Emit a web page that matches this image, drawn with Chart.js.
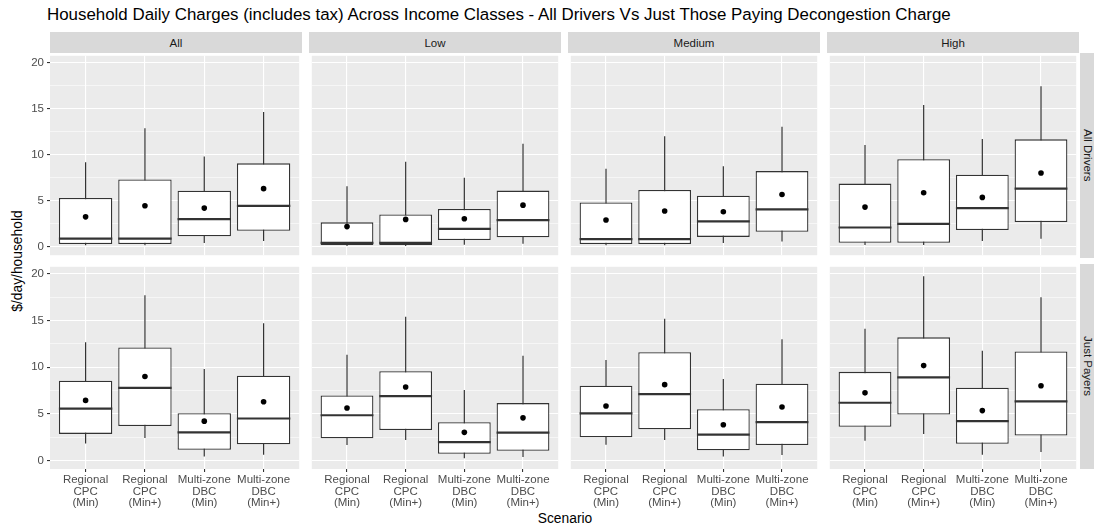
<!DOCTYPE html>
<html>
<head>
<meta charset="utf-8">
<script src="https://cdn.jsdelivr.net/npm/chart.js@4.4.1/dist/chart.umd.min.js"></script>
<style>
  html, body { margin:0; padding:0; background:#fff; }
  body { width:1094px; height:527px; position:relative; overflow:hidden; font-family:"Liberation Sans", Arial, Helvetica, sans-serif; }
  canvas { position:absolute; }
  .strip { position:absolute; background:#d9d9d9; color:#1a1a1a; font-size:11.5px; display:flex; align-items:center; justify-content:center; }
  .strip.right { writing-mode:vertical-rl; }
  #title { position:absolute; left:47px; top:6px; font-size:16.9px; line-height:18px; color:#000; white-space:nowrap; }
  #ytitle { position:absolute; left:17px; top:261px; font-size:13.8px; color:#000; white-space:nowrap; transform:translate(-50%,-50%) rotate(-90deg); }
  #xtitle { position:absolute; left:565px; top:518px; font-size:13.8px; color:#000; white-space:nowrap; transform:translate(-50%,-50%); }
</style>
</head>
<body>
<div id="title">Household Daily Charges (includes tax) Across Income Classes - All Drivers Vs Just Those Paying Decongestion Charge</div>
<div id="ytitle">$/day/household</div>
<div id="xtitle">Scenario</div>
<script>
// ---------- data ----------
const scenarios = [["Regional","CPC","(Min)"],["Regional","CPC","(Min+)"],["Multi-zone","DBC","(Min)"],["Multi-zone","DBC","(Min+)"]];
const incomeClasses = ["All","Low","Medium","High"];
const driverGroups = ["All Drivers","Just Payers"];
const yTickValues = [0, 5, 10, 15, 20];
const yMinorValues = [2.5, 7.5, 12.5, 17.5];

// All Drivers: rows = income class (All, Low, Medium, High), cols = scenarios
const allDriversLower  = [[0.17,0.17,0.42,0.63],[0.10,0.10,0.24,0.35],[0.17,0.17,0.42,0.60],[0.21,0.21,0.63,0.88]];
const allDriversQ1     = [[0.31,0.31,1.16,1.76],[0.20,0.20,0.74,1.05],[0.31,0.31,1.09,1.65],[0.45,0.45,1.83,2.70]];
const allDriversMedian = [[0.91,0.91,3.02,4.47],[0.45,0.45,1.97,2.92],[0.85,0.85,2.78,4.08],[2.11,2.50,4.22,6.33]];
const allDriversQ3     = [[5.31,7.32,6.10,9.08],[2.67,3.52,4.12,6.12],[4.83,6.19,5.56,8.24],[6.88,9.54,7.85,11.69]];
const allDriversUpper  = [[9.19,12.90,9.83,14.67],[6.58,9.26,7.53,11.22],[8.49,12.04,8.76,13.06],[11.07,15.42,11.72,17.46]];
const allDriversMean   = [[3.27,4.47,4.22,6.33],[2.21,2.99,3.06,4.54],[2.92,3.90,3.83,5.70],[4.33,5.88,5.38,8.03]];

// Just Payers
const payersLower  = [[1.83,2.43,0.43,0.64],[1.66,2.22,0.25,0.39],[1.69,2.22,0.43,0.60],[2.12,2.86,0.64,0.92]];
const payersQ1     = [[2.86,3.70,1.17,1.76],[2.40,3.28,0.74,1.06],[2.50,3.35,1.10,1.66],[3.63,4.93,1.80,2.68]];
const payersMedian = [[5.57,7.79,3.03,4.51],[4.86,6.90,1.98,2.99],[5.07,7.12,2.79,4.12],[6.20,8.91,4.23,6.34]];
const payersQ3     = [[8.56,12.12,5.07,9.09],[6.97,9.58,4.12,6.16],[8.03,11.62,5.50,8.24],[9.51,13.21,7.82,11.69]];
const payersUpper  = [[12.68,17.71,9.83,14.71],[11.34,15.43,7.57,11.23],[10.77,15.21,8.74,13.00],[14.12,19.76,11.76,17.50]];
const payersMean   = [[6.45,9.02,4.23,6.31],[5.64,7.89,3.03,4.58],[5.85,8.14,3.84,5.74],[7.26,10.18,5.36,8.03]];

const stats = [
  {lower:allDriversLower, q1:allDriversQ1, median:allDriversMedian, q3:allDriversQ3, upper:allDriversUpper, mean:allDriversMean},
  {lower:payersLower, q1:payersQ1, median:payersMedian, q3:payersQ3, upper:payersUpper, mean:payersMean}
];

// ---------- layout ----------
const colX = [50, 309, 568, 827];
const panelW = 252;
const rowY = [53, 264];
const panelH = 205;
const yAxisW = 50;
const xAxisH = 58;
const Y_MIN = -0.9, Y_MAX = 20.77;
const FONT = "'Liberation Sans', Arial, Helvetica, sans-serif";
Chart.defaults.font.family = FONT;

const panelBg = {
  id:'panelBg',
  beforeDraw(chart){
    const a = chart.chartArea, ctx = chart.ctx;
    ctx.save(); ctx.fillStyle = '#ebebeb';
    ctx.fillRect(a.left, a.top, a.right - a.left, a.bottom - a.top);
    ctx.restore();
  }
};
const medianLines = {
  id:'medianLines',
  afterDatasetDraw(chart, args){
    const ds = chart.data.datasets[args.index];
    if (!ds.medians) return;
    const ctx = chart.ctx, ys = chart.scales.y;
    ctx.save();
    ctx.strokeStyle = '#333333'; ctx.lineWidth = 2.2;
    args.meta.data.forEach((bar, i) => {
      const py = ys.getPixelForValue(ds.medians[i]);
      const half = bar.width / 2;
      ctx.beginPath(); ctx.moveTo(bar.x - half, py); ctx.lineTo(bar.x + half, py); ctx.stroke();
    });
    ctx.restore();
  }
};

function isMajor(v){ return yTickValues.includes(v); }

function makePanel(r, c){
  const showY = c === 0, showX = r === 1;
  const left = showY ? 0 : colX[c];
  const w = panelW + (showY ? yAxisW : 0);
  const h = panelH + (showX ? xAxisH : 0);
  const cv = document.createElement('canvas');
  cv.width = w; cv.height = h;
  cv.style.left = left + 'px'; cv.style.top = rowY[r] + 'px';
  cv.style.width = w + 'px'; cv.style.height = h + 'px';
  document.body.appendChild(cv);
  const s = stats[r];
  const xs = scenarios.map((_, i) => i + 1);
  new Chart(cv, {
    type:'bar',
    data:{
      datasets:[
        { type:'scatter', data: xs.map((x,i)=>({x, y:s.mean[c][i]})), backgroundColor:'#000', borderWidth:0, pointRadius:2.8, pointHoverRadius:2.8, order:0 },
        { type:'bar', data: xs.map((x,i)=>({x, y:[s.q1[c][i], s.q3[c][i]]})), medians: s.median[c],
          backgroundColor:'#ffffff', borderColor:'#333333', borderWidth:1.3, borderSkipped:false, inflateAmount:0,
          grouped:false, categoryPercentage:1, barPercentage:0.9, order:1 },
        { type:'bar', data: xs.map((x,i)=>({x, y:[s.lower[c][i], s.upper[c][i]]})),
          backgroundColor:'#333333', borderWidth:0, inflateAmount:0, grouped:false, barThickness:1.2, order:2 }
      ]
    },
    options:{
      responsive:false, animation:false, events:[],
      layout:{ padding:0 },
      plugins:{ legend:{display:false}, tooltip:{enabled:false} },
      scales:{
        x:{
          type:'linear', min:0.4, max:4.6, offset:false,
          grid:{ color:'#ffffff', lineWidth:1.1, offset:false, drawTicks:showX, tickLength:3, tickColor:'#333333', tickWidth:1.1 },
          border:{ display:false },
          ticks:{ display:showX, autoSkip:false, maxRotation:0, minRotation:0, padding:2, color:'#4d4d4d',
                  font:{ size:11.5, lineHeight:1.02 }, callback:(v, i) => scenarios[i] },
          afterBuildTicks: sc => { sc.ticks = xs.map(v => ({value:v})); },
          afterFit: sc => { sc.height = showX ? xAxisH : 0; sc.paddingLeft = 0; sc.paddingRight = 0; sc.paddingTop = 0; sc.paddingBottom = 0; }
        },
        y:{
          type:'linear', min:Y_MIN, max:Y_MAX,
          grid:{ color:'#ffffff', lineWidth: ctx => isMajor(ctx.tick.value) ? 1.1 : 0.55,
                 drawTicks:showY, tickLength:3,
                 tickColor: ctx => isMajor(ctx.tick.value) ? '#333333' : 'rgba(0,0,0,0)', tickWidth:1.1 },
          border:{ display:false },
          ticks:{ display:showY, padding:3, color:'#4d4d4d', font:{ size:11.5 },
                  callback: v => isMajor(v) ? String(v) : '' },
          afterBuildTicks: sc => { sc.ticks = yTickValues.concat(yMinorValues).sort((a,b)=>a-b).map(v => ({value:v})); },
          afterFit: sc => { sc.width = showY ? yAxisW : 0; sc.paddingTop = 0; sc.paddingBottom = 0; sc.paddingLeft = 0; sc.paddingRight = 0; }
        }
      }
    },
    plugins:[panelBg, medianLines]
  });
}

for (let r = 0; r < driverGroups.length; r++)
  for (let c = 0; c < incomeClasses.length; c++) makePanel(r, c);

// strips
incomeClasses.forEach((name, c) => {
  const d = document.createElement('div');
  d.className = 'strip';
  d.style.left = colX[c] + 'px'; d.style.top = '32px';
  d.style.width = panelW + 'px'; d.style.height = '21px';
  d.textContent = name;
  document.body.appendChild(d);
});
driverGroups.forEach((name, r) => {
  const d = document.createElement('div');
  d.className = 'strip right';
  d.style.left = '1080px'; d.style.top = rowY[r] + 'px';
  d.style.width = '16px'; d.style.height = panelH + 'px';
  d.textContent = name;
  document.body.appendChild(d);
});
</script>
</body>
</html>
